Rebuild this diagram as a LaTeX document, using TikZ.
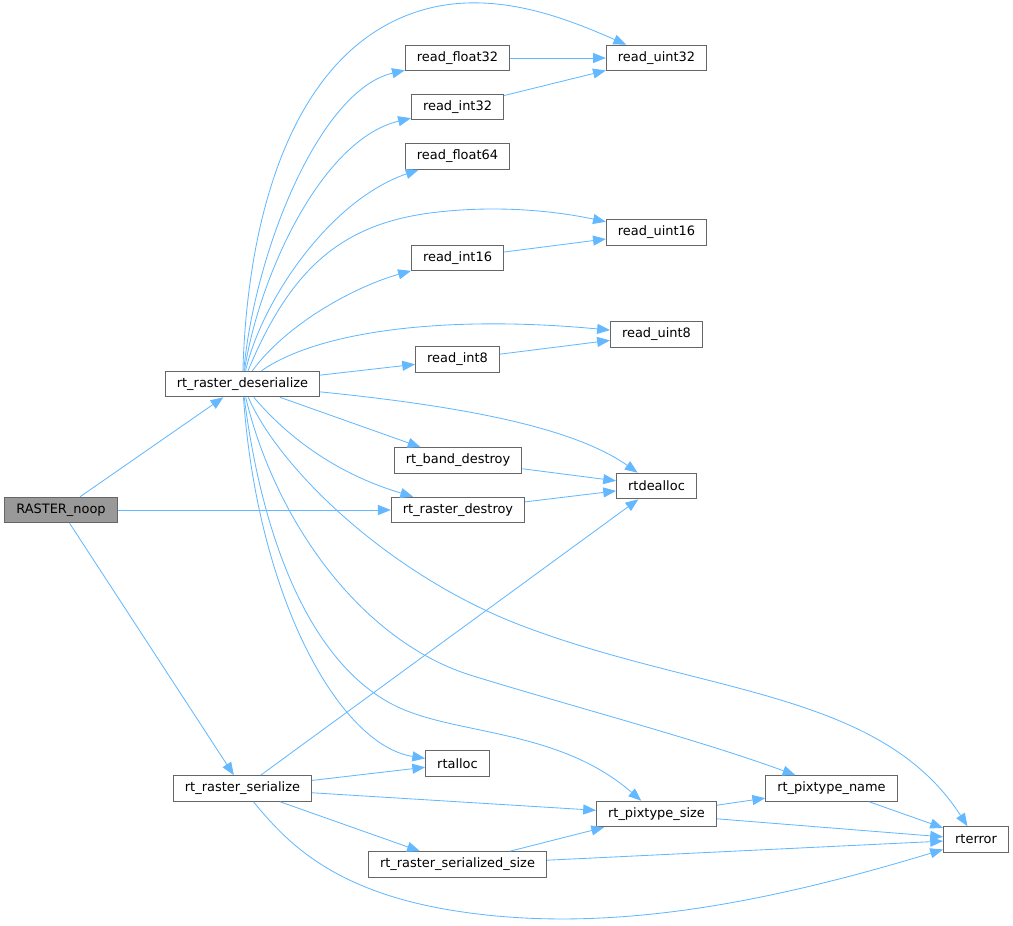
\documentclass[tikz,border=0pt]{standalone}
\usepackage{fontspec}
\setmainfont{DejaVu Sans}
\usepackage{tikz}
\usetikzlibrary{arrows.meta}

\definecolor{edgeblue}{HTML}{63B8FF}
\definecolor{boxline}{HTML}{666666}
\definecolor{rootfill}{HTML}{999999}

\begin{document}
\begin{tikzpicture}[
    x=0.025cm, y=-0.025cm,
    fn/.style={
        rectangle, draw=boxline, line width=0.7pt, fill=white,
        minimum height=0.64cm, inner xsep=0.29cm, inner ysep=0pt,
        font=\fontsize{9.2}{11}\selectfont
    },
    root/.style={fn, fill=rootfill},
    arrow/.style={-{Triangle[length=3.2mm,width=2.5mm]}, line width=0.6pt, draw=edgeblue}
]
\useasboundingbox (0,0) rectangle (1013,926);

% Callers
\node[root] (noop) at (61,510) {RASTER\_noop};
\node[fn] (deser) at (242.5,384) {rt\_raster\_deserialize};
\node[fn] (ser) at (242.5,788.5) {rt\_raster\_serialize};

% Middle column
\node[fn] (rf32) at (457.5,58) {read\_float32};
\node[fn] (ri32) at (457.5,107) {read\_int32};
\node[fn] (rf64) at (457.5,156.5) {read\_float64};
\node[fn] (ri16) at (457.5,258) {read\_int16};
\node[fn] (ri8) at (457.5,359.5) {read\_int8};
\node[fn] (bdestroy) at (458,460.5) {rt\_band\_destroy};
\node[fn] (rdestroy) at (458,510) {rt\_raster\_destroy};
\node[fn] (alloc) at (457.5,763.5) {rtalloc};
\node[fn] (sersize) at (457.5,864.5) {rt\_raster\_serialized\_size};

% Right columns
\node[fn] (ru32) at (656.5,58) {read\_uint32};
\node[fn] (ru16) at (656.5,232.5) {read\_uint16};
\node[fn] (ru8) at (656.5,334.5) {read\_uint8};
\node[fn] (dealloc) at (656.5,486) {rtdealloc};
\node[fn] (ptsize) at (656.5,814) {rt\_pixtype\_size};
\node[fn] (ptname) at (831.5,788.5) {rt\_pixtype\_name};
\node[fn] (rterr) at (976,839.5) {rterror};

% From RASTER_noop
\draw[arrow] (noop) -- (deser);
\draw[arrow] (noop) -- (rdestroy);
\draw[arrow] (noop) -- (ser);

% From rt_raster_deserialize (upwards)
\draw[arrow] (deser) .. controls (248,200) and (300,40) .. (430,8) .. controls (500,-9) and (570,20) .. (ru32);
\draw[arrow] (deser) .. controls (255,250) and (320,90) .. (rf32);
\draw[arrow] (deser) .. controls (258,280) and (320,140) .. (ri32);
\draw[arrow] (deser) .. controls (262,300) and (330,200) .. (rf64);
\draw[arrow] (deser) .. controls (290,270) and (340,225) .. (430,213) .. controls (500,204) and (560,212) .. (ru16);
\draw[arrow] (deser) .. controls (290,320) and (360,285) .. (ri16);
\draw[arrow] (deser) .. controls (320,330) and (450,315) .. (ru8);
\draw[arrow] (deser) -- (ri8);

% From rt_raster_deserialize (downwards)
\draw[arrow] (deser) .. controls (450,405) and (570,425) .. (dealloc);
\draw[arrow] (deser) -- (bdestroy);
\draw[arrow] (deser) .. controls (290,440) and (340,475) .. (rdestroy);
\draw[arrow] (deser) .. controls (280,470) and (390,575) .. (520,625) .. controls (700,694) and (880,690) .. (rterr);
\draw[arrow] (deser) .. controls (275,520) and (360,640) .. (470,675) .. controls (560,703) and (700,740) .. (ptname);
\draw[arrow] (deser) .. controls (265,560) and (320,672) .. (400,708) .. controls (460,735) and (560,730) .. (ptsize);
\draw[arrow] (deser) .. controls (258,600) and (340,745) .. (alloc);

% Second level
\draw[arrow] (rf32) -- (ru32);
\draw[arrow] (ri32) -- (ru32);
\draw[arrow] (ri16) -- (ru16);
\draw[arrow] (ri8) -- (ru8);
\draw[arrow] (bdestroy) -- (dealloc);
\draw[arrow] (rdestroy) -- (dealloc);

% From rt_raster_serialize
\draw[arrow] (ser) -- (dealloc);
\draw[arrow] (ser) -- (alloc);
\draw[arrow] (ser) -- (ptsize);
\draw[arrow] (ser) -- (sersize);
\draw[arrow] (ser) .. controls (285,840) and (330,890) .. (450,910) .. controls (600,935) and (760,905) .. (rterr);

% Bottom right
\draw[arrow] (sersize) -- (ptsize);
\draw[arrow] (sersize) -- (rterr);
\draw[arrow] (ptsize) -- (ptname);
\draw[arrow] (ptsize) -- (rterr);
\draw[arrow] (ptname) -- (rterr);

\end{tikzpicture}
\end{document}
